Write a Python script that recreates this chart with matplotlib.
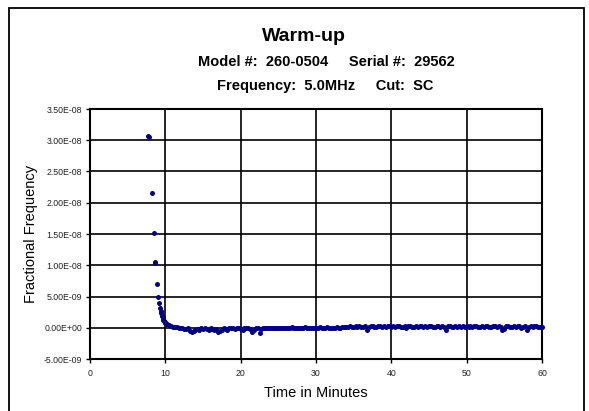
import matplotlib
matplotlib.use("Agg")
import matplotlib.pyplot as plt
from matplotlib.ticker import FuncFormatter, MultipleLocator
from matplotlib.patches import Rectangle

plt.rcParams['font.family'] = ['Liberation Sans', 'DejaVu Sans']

# ---- data (fractional frequency in units of 1e-9) ----
warm_times = [7.65, 7.85, 8.23, 8.45, 8.64, 8.68, 8.85, 9.07, 9.20, 9.29, 9.38,
              9.47, 9.56, 9.65, 9.74, 9.82, 9.91, 10.0, 10.1]
warm_vals = [30.6, 30.5, 21.6, 15.1, 10.6, 10.3, 6.95, 4.97, 3.9, 3.2, 2.7,
             2.3, 1.9, 1.6, 1.3, 1.1, 0.9, 0.75, 0.65]

flat_times = [
    10.25, 10.5, 10.75, 11.0, 11.25, 11.5, 11.75, 12.0, 12.25, 12.5, 12.75, 13.0, 13.25, 13.5, 13.75, 14.0, 14.25, 14.5, 14.75, 15.0,
    15.25, 15.5, 15.75, 16.0, 16.25, 16.5, 16.75, 17.0, 17.25, 17.5, 17.75, 18.0, 18.25, 18.5, 18.75, 19.0, 19.25, 19.5, 19.75, 20.0,
    20.25, 20.5, 20.75, 21.0, 21.25, 21.5, 21.75, 22.0, 22.25, 22.5, 22.75, 23.0, 23.25, 23.5, 23.75, 24.0, 24.25, 24.5, 24.75, 25.0,
    25.25, 25.5, 25.75, 26.0, 26.25, 26.5, 26.75, 27.0, 27.25, 27.5, 27.75, 28.0, 28.25, 28.5, 28.75, 29.0, 29.25, 29.5, 29.75, 30.0,
    30.25, 30.5, 30.75, 31.0, 31.25, 31.5, 31.75, 32.0, 32.25, 32.5, 32.75, 33.0, 33.25, 33.5, 33.75, 34.0, 34.25, 34.5, 34.75, 35.0,
    35.25, 35.5, 35.75, 36.0, 36.25, 36.5, 36.75, 37.0, 37.25, 37.5, 37.75, 38.0, 38.25, 38.5, 38.75, 39.0, 39.25, 39.5, 39.75, 40.0,
    40.25, 40.5, 40.75, 41.0, 41.25, 41.5, 41.75, 42.0, 42.25, 42.5, 42.75, 43.0, 43.25, 43.5, 43.75, 44.0, 44.25, 44.5, 44.75, 45.0,
    45.25, 45.5, 45.75, 46.0, 46.25, 46.5, 46.75, 47.0, 47.25, 47.5, 47.75, 48.0, 48.25, 48.5, 48.75, 49.0, 49.25, 49.5, 49.75, 50.0,
    50.25, 50.5, 50.75, 51.0, 51.25, 51.5, 51.75, 52.0, 52.25, 52.5, 52.75, 53.0, 53.25, 53.5, 53.75, 54.0, 54.25, 54.5, 54.75, 55.0,
    55.25, 55.5, 55.75, 56.0, 56.25, 56.5, 56.75, 57.0, 57.25, 57.5, 57.75, 58.0, 58.25, 58.5, 58.75, 59.0, 59.25, 59.5, 59.75, 60.0,
]
flat_vals = [
    0.60, 0.42, 0.28, 0.18, 0.10, 0.05, 0.02, 0.00, -0.10, -0.25, -0.15, -0.05, -0.45, -0.60, -0.55, -0.30, -0.20, -0.35, -0.10, -0.20,
    -0.10, -0.25, -0.30, -0.10, -0.20, -0.40, -0.15, -0.60, -0.50, -0.30, -0.10, -0.20, -0.30, -0.10, 0.00, -0.10, -0.25, -0.10, 0.00, -0.15,
    -0.30, -0.10, 0.00, -0.10, -0.20, -0.70, -0.30, -0.10, 0.00, -0.90, -0.20, -0.10, 0.00, 0.00, -0.05, 0.00, 0.00, -0.05, 0.00, 0.00,
    0.00, 0.00, -0.05, 0.00, 0.00, 0.00, 0.05, 0.00, 0.00, -0.05, 0.00, 0.00, 0.00, 0.05, 0.00, 0.00, 0.00, -0.05, 0.00, 0.00,
    0.00, 0.05, 0.00, 0.00, 0.00, 0.05, 0.00, 0.00, -0.05, 0.00, 0.05, 0.00, 0.00, 0.05, 0.10, 0.20, 0.05, 0.25, 0.10, 0.20,
    0.25, 0.10, 0.30, 0.15, 0.20, 0.30, -0.40, 0.10, 0.25, 0.30, 0.15, 0.05, 0.25, 0.30, 0.20, 0.35, 0.10, 0.25, 0.30, 0.20,
    0.30, 0.15, 0.25, 0.35, 0.10, 0.20, 0.30, -0.10, 0.25, 0.30, 0.15, 0.20, 0.35, 0.10, 0.25, 0.30, 0.20, 0.35, 0.15, 0.25,
    0.30, 0.20, 0.10, 0.35, 0.25, 0.15, 0.30, 0.20, -0.35, 0.25, 0.30, 0.15, 0.20, 0.35, 0.10, 0.25, 0.20, 0.30, 0.15, 0.25,
    0.20, 0.30, 0.10, 0.25, 0.35, 0.15, 0.20, 0.30, 0.10, 0.25, 0.30, 0.15, 0.20, 0.35, 0.25, 0.10, 0.30, 0.20, -0.30, -0.15,
    0.25, 0.30, 0.15, 0.20, 0.35, 0.10, 0.25, 0.30, -0.05, 0.15, 0.25, -0.40, 0.20, 0.30, 0.15, 0.25, 0.30, 0.20, 0.10, 0.15,
]
UNIT = 1e-9

title = "Warm-up"
subtitle1 = "Model #:  260-0504     Serial #:  29562"
subtitle2 = "Frequency:  5.0MHz     Cut:  SC"
xlabel = "Time in Minutes"
ylabel = "Fractional Frequency"

W, H = 589, 411
fig = plt.figure(figsize=(W / 100, H / 100), dpi=100)
fig.patch.set_facecolor('white')

# outer chart border (bottom edge falls outside the image)
fig.patches.append(Rectangle((9 / W, -0.05), (584 - 9) / W, 1.05 - 8 / H,
                             transform=fig.transFigure, fill=False,
                             edgecolor='black', linewidth=1.3, zorder=0))

ax = fig.add_axes([90 / W, 1 - 359 / H, 452 / W, 250 / H])
ax.set_xlim(0, 60)
ax.set_ylim(-5e-9, 3.5e-8)
ax.xaxis.set_major_locator(MultipleLocator(10))
ax.yaxis.set_major_locator(MultipleLocator(5e-9))
ax.yaxis.set_major_formatter(FuncFormatter(lambda v, p: f"{v:.2E}"))
ax.grid(True, color='black', linewidth=1.2)
ax.set_axisbelow(True)
for s in ax.spines.values():
    s.set_linewidth(1.5)
    s.set_color('black')
ax.tick_params(axis='both', labelsize=6.3, length=3, width=1, color='black',
               labelcolor='#222222')
ax.tick_params(axis='y', pad=2.5)
ax.tick_params(axis='x', pad=4)

all_t = warm_times + flat_times
all_v = [v * UNIT for v in warm_vals + flat_vals]
ax.plot(all_t, all_v, linestyle='none', marker='o', markersize=3.6,
        markeredgewidth=0, color='#000080', zorder=3, clip_on=False)

ax.set_ylabel(ylabel, fontsize=10.5)
ax.yaxis.set_label_coords((38 - 90) / 452, 0.5)

fig.text(315.8 / W, 1 - 396.7 / H, xlabel, fontsize=10.5, ha='center', va='baseline')
fig.text(304 / W, 1 - 41 / H, title, fontsize=14, fontweight='bold', ha='center', va='baseline')
fig.text(326 / W, 1 - 66 / H, subtitle1, fontsize=10.5, fontweight='bold', ha='center', va='baseline')
fig.text(325.5 / W, 1 - 90 / H, subtitle2, fontsize=10.5, fontweight='bold', ha='center', va='baseline')

fig.savefig("out.png", dpi=100)
